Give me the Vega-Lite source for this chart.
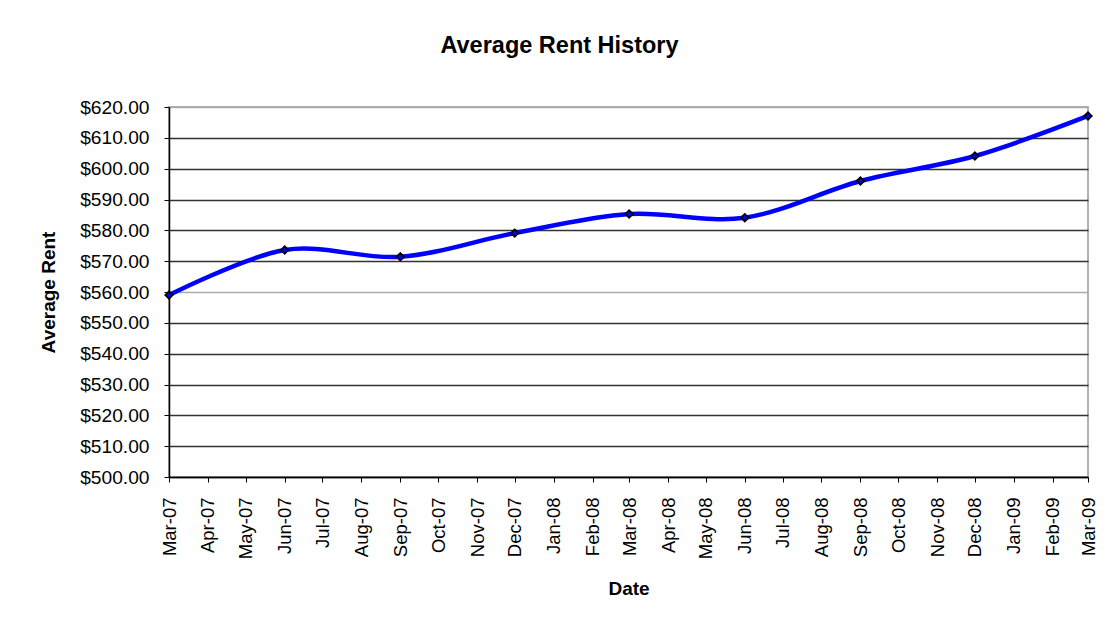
{
  "$schema": "https://vega.github.io/schema/vega-lite/v6.json",
  "width": 919,
  "height": 370,
  "autosize": {"type": "none"},
  "padding": {"left": 169, "top": 107, "right": 26, "bottom": 147},
  "background": "white",
  "title": {
    "text": "Average Rent History",
    "font": "Liberation Sans",
    "fontSize": 23.5,
    "fontWeight": "bold",
    "color": "black",
    "anchor": "middle",
    "frame": "group",
    "dx": -69,
    "offset": 41
  },
  "data": {
    "values": [
      {"Date": "2007-03-01T00:00:00", "Rent": 559.0},
      {"Date": "2007-06-01T00:00:00", "Rent": 573.6},
      {"Date": "2007-09-01T00:00:00", "Rent": 571.4},
      {"Date": "2007-12-01T00:00:00", "Rent": 579.1},
      {"Date": "2008-03-01T00:00:00", "Rent": 585.3},
      {"Date": "2008-06-01T00:00:00", "Rent": 584.1},
      {"Date": "2008-09-01T00:00:00", "Rent": 596.0},
      {"Date": "2008-12-01T00:00:00", "Rent": 604.1},
      {"Date": "2009-03-01T00:00:00", "Rent": 617.1}
    ]
  },
  "encoding": {
    "x": {
      "field": "Date",
      "type": "temporal",
      "scale": {"nice": false, "domain": ["2007-03-01T00:00:00", "2009-03-01T00:00:00"]},
      "axis": {
        "title": "Date",
        "format": "%b-%y",
        "tickCount": {"interval": "month", "step": 1},
        "labelAngle": -90,
        "labelAlign": "right",
        "labelBaseline": "middle",
        "labelFont": "Liberation Sans",
        "labelFontSize": 18.5,
        "labelColor": "black",
        "labelPadding": 15,
        "labelOverlap": false,
        "labelFlush": false,
        "tickColor": "black",
        "tickSize": 5,
        "domainColor": "black",
        "domainWidth": 1.5,
        "grid": false,
        "titleFont": "Liberation Sans",
        "titleFontSize": 19,
        "titleFontWeight": "bold",
        "titleColor": "black",
        "titlePadding": 21
      }
    },
    "y": {
      "field": "Rent",
      "type": "quantitative",
      "scale": {"domain": [500, 620], "nice": false, "zero": false},
      "axis": {
        "title": "Average Rent",
        "format": "$,.2f",
        "values": [500, 510, 520, 530, 540, 550, 560, 570, 580, 590, 600, 610, 620],
        "labelFont": "Liberation Sans",
        "labelFontSize": 19.2,
        "labelColor": "black",
        "labelPadding": 15,
        "tickColor": "black",
        "tickSize": 5,
        "domainColor": "black",
        "domainWidth": 1.5,
        "grid": true,
        "gridColor": {"condition": {"test": "datum.value === 620 || datum.value === 560", "value": "#aaaaaa"}, "value": "#333333"},
        "gridWidth": 1.3,
        "gridOpacity": 1,
        "titleFont": "Liberation Sans",
        "titleFontSize": 19,
        "titleFontWeight": "bold",
        "titleColor": "black",
        "titlePadding": 21
      }
    }
  },
  "layer": [
    {
      "mark": {"type": "line", "interpolate": "cardinal", "color": "#0000ff", "strokeWidth": 4.5}
    },
    {
      "mark": {"type": "point", "shape": "diamond", "filled": true, "fill": "#0000ff", "stroke": "black", "strokeWidth": 1.8, "size": 55, "opacity": 1}
    }
  ],
  "config": {
    "view": {"stroke": "#999999", "strokeWidth": 1.5}
  }
}
